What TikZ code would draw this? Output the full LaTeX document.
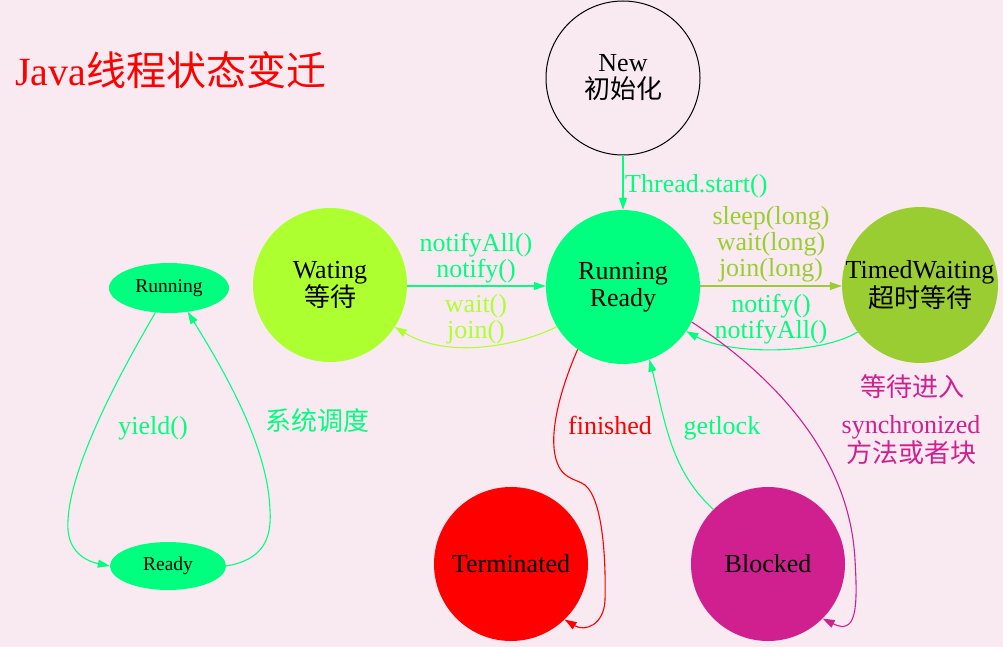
\documentclass[tikz,border=0pt]{standalone}
\usepackage{fontspec}
\setmainfont{Liberation Serif}
\newfontfamily\cjk{Noto Sans CJK SC}
\usetikzlibrary{arrows.meta,shapes.geometric}
\definecolor{bg}{HTML}{F9EAF2}
\definecolor{sgreen}{HTML}{00FF7F}
\definecolor{gyellow}{HTML}{ADFF2F}
\definecolor{ygreen}{HTML}{9ACD32}
\definecolor{vred}{HTML}{D02090}
\begin{document}
\begin{tikzpicture}[x=1pt,y=-1pt,
  state/.style={circle,minimum size=154pt,inner sep=0pt,align=center,font=\fontsize{26}{27}\selectfont},
  smallstate/.style={ellipse,fill=sgreen,inner sep=0pt,font=\fontsize{19.5}{20}\selectfont},
  conn/.style={line width=1.1pt,-{Triangle[length=12pt,width=8pt]}},
  lbl/.style={align=center,inner sep=0pt,font=\fontsize{26}{26}\selectfont}
]
\fill[bg] (0,0) rectangle (1003,647);
\useasboundingbox (0,0) rectangle (1003,647);

\node[anchor=base west,inner sep=0pt,text=red,font=\fontsize{40}{40}\selectfont] (title) at (15,86) {Java{\cjk 线程状态变迁}};

\node[state,draw=black,line width=1pt] (new) at (623,78) {New\\{\cjk 初始化}};
\node[state,fill=sgreen] (rr) at (623,287) {Running\\Ready};
\node[state,fill=gyellow] (w) at (330,285) {Wating\\{\cjk 等待}};
\node[state,fill=ygreen] (tw) at (920,285) {TimedWaiting\\{\cjk 超时等待}};
\node[state,fill=red] (t) at (511,564) {Terminated};
\node[state,fill=vred] (b) at (768,564) {Blocked};
\node[smallstate,minimum width=120pt,minimum height=50pt] (run) at (169,288) {Running};
\node[smallstate,minimum width=116pt,minimum height=48pt] (rdy) at (168,566) {Ready};

% edges
\draw[conn,sgreen] (new) -- (rr);
\draw[conn,sgreen] (w.east |- 0,286) -- (rr.west |- 0,286);
\draw[conn,gyellow] (rr.211) .. controls (520,345) and (450,360) .. (w.-33);
\draw[conn,ygreen] (rr.east |- 0,286) -- (tw.west |- 0,286);
\draw[conn,sgreen] (tw.217) .. controls (820,355) and (730,355) .. (rr.-35);
\draw[conn,red] (rr.234) .. controls (560,390) and (550,430) .. (555,455)
  .. controls (560,480) and (575,478) .. (585,485)
  .. controls (603,500) and (606,560) .. (605,600)
  .. controls (604,625) and (585,632) .. (t.-46);
\draw[conn,sgreen] (b.135) .. controls (670,470) and (665,420) .. (rr.290);
\draw[conn,vred] (rr.-27) .. controls (780,380) and (850,460) .. (855,560)
  .. controls (858,610) and (856,635) .. (b.-45);
\draw[conn,sgreen] (run.241) .. controls (110,390) and (65,480) .. (68,530)
  .. controls (70,555) and (90,562) .. (rdy.west);
\draw[conn,sgreen] (rdy.east) .. controls (262,560) and (272,540) .. (270,510)
  .. controls (268,450) and (230,380) .. (run.-52);

% labels
\node[lbl,anchor=base west,text=sgreen] (l1) at (625,193) {Thread.start()};
\node[lbl,text=sgreen] (l2) at (476,258.5) {notifyAll()\\notify()};
\node[lbl,text=gyellow] (l3) at (476,319.5) {wait()\\join()};
\node[lbl,text=ygreen] (l4) at (771,244) {sleep(long)\\wait(long)\\join(long)};
\node[lbl,text=sgreen] (l5) at (771,319.5) {notify()\\notifyAll()};
\node[lbl,anchor=base,text=red] (l6) at (610,434) {finished};
\node[lbl,anchor=base,text=sgreen] (l7) at (722,434) {getlock};
\node[lbl,text=vred,font=\fontsize{26}{26}\selectfont\cjk] (l8) at (912,387) {等待进入};
\node[lbl,anchor=base,text=vred] (l9) at (911,433) {synchronized};
\node[lbl,text=vred,font=\fontsize{26}{26}\selectfont\cjk] (l10) at (911,453) {方法或者块};
\node[lbl,anchor=base,text=sgreen] (l11) at (153,434) {yield()};
\node[lbl,text=sgreen,font=\fontsize{26}{26}\selectfont\cjk] (l12) at (317,421) {系统调度};
\end{tikzpicture}
\end{document}
